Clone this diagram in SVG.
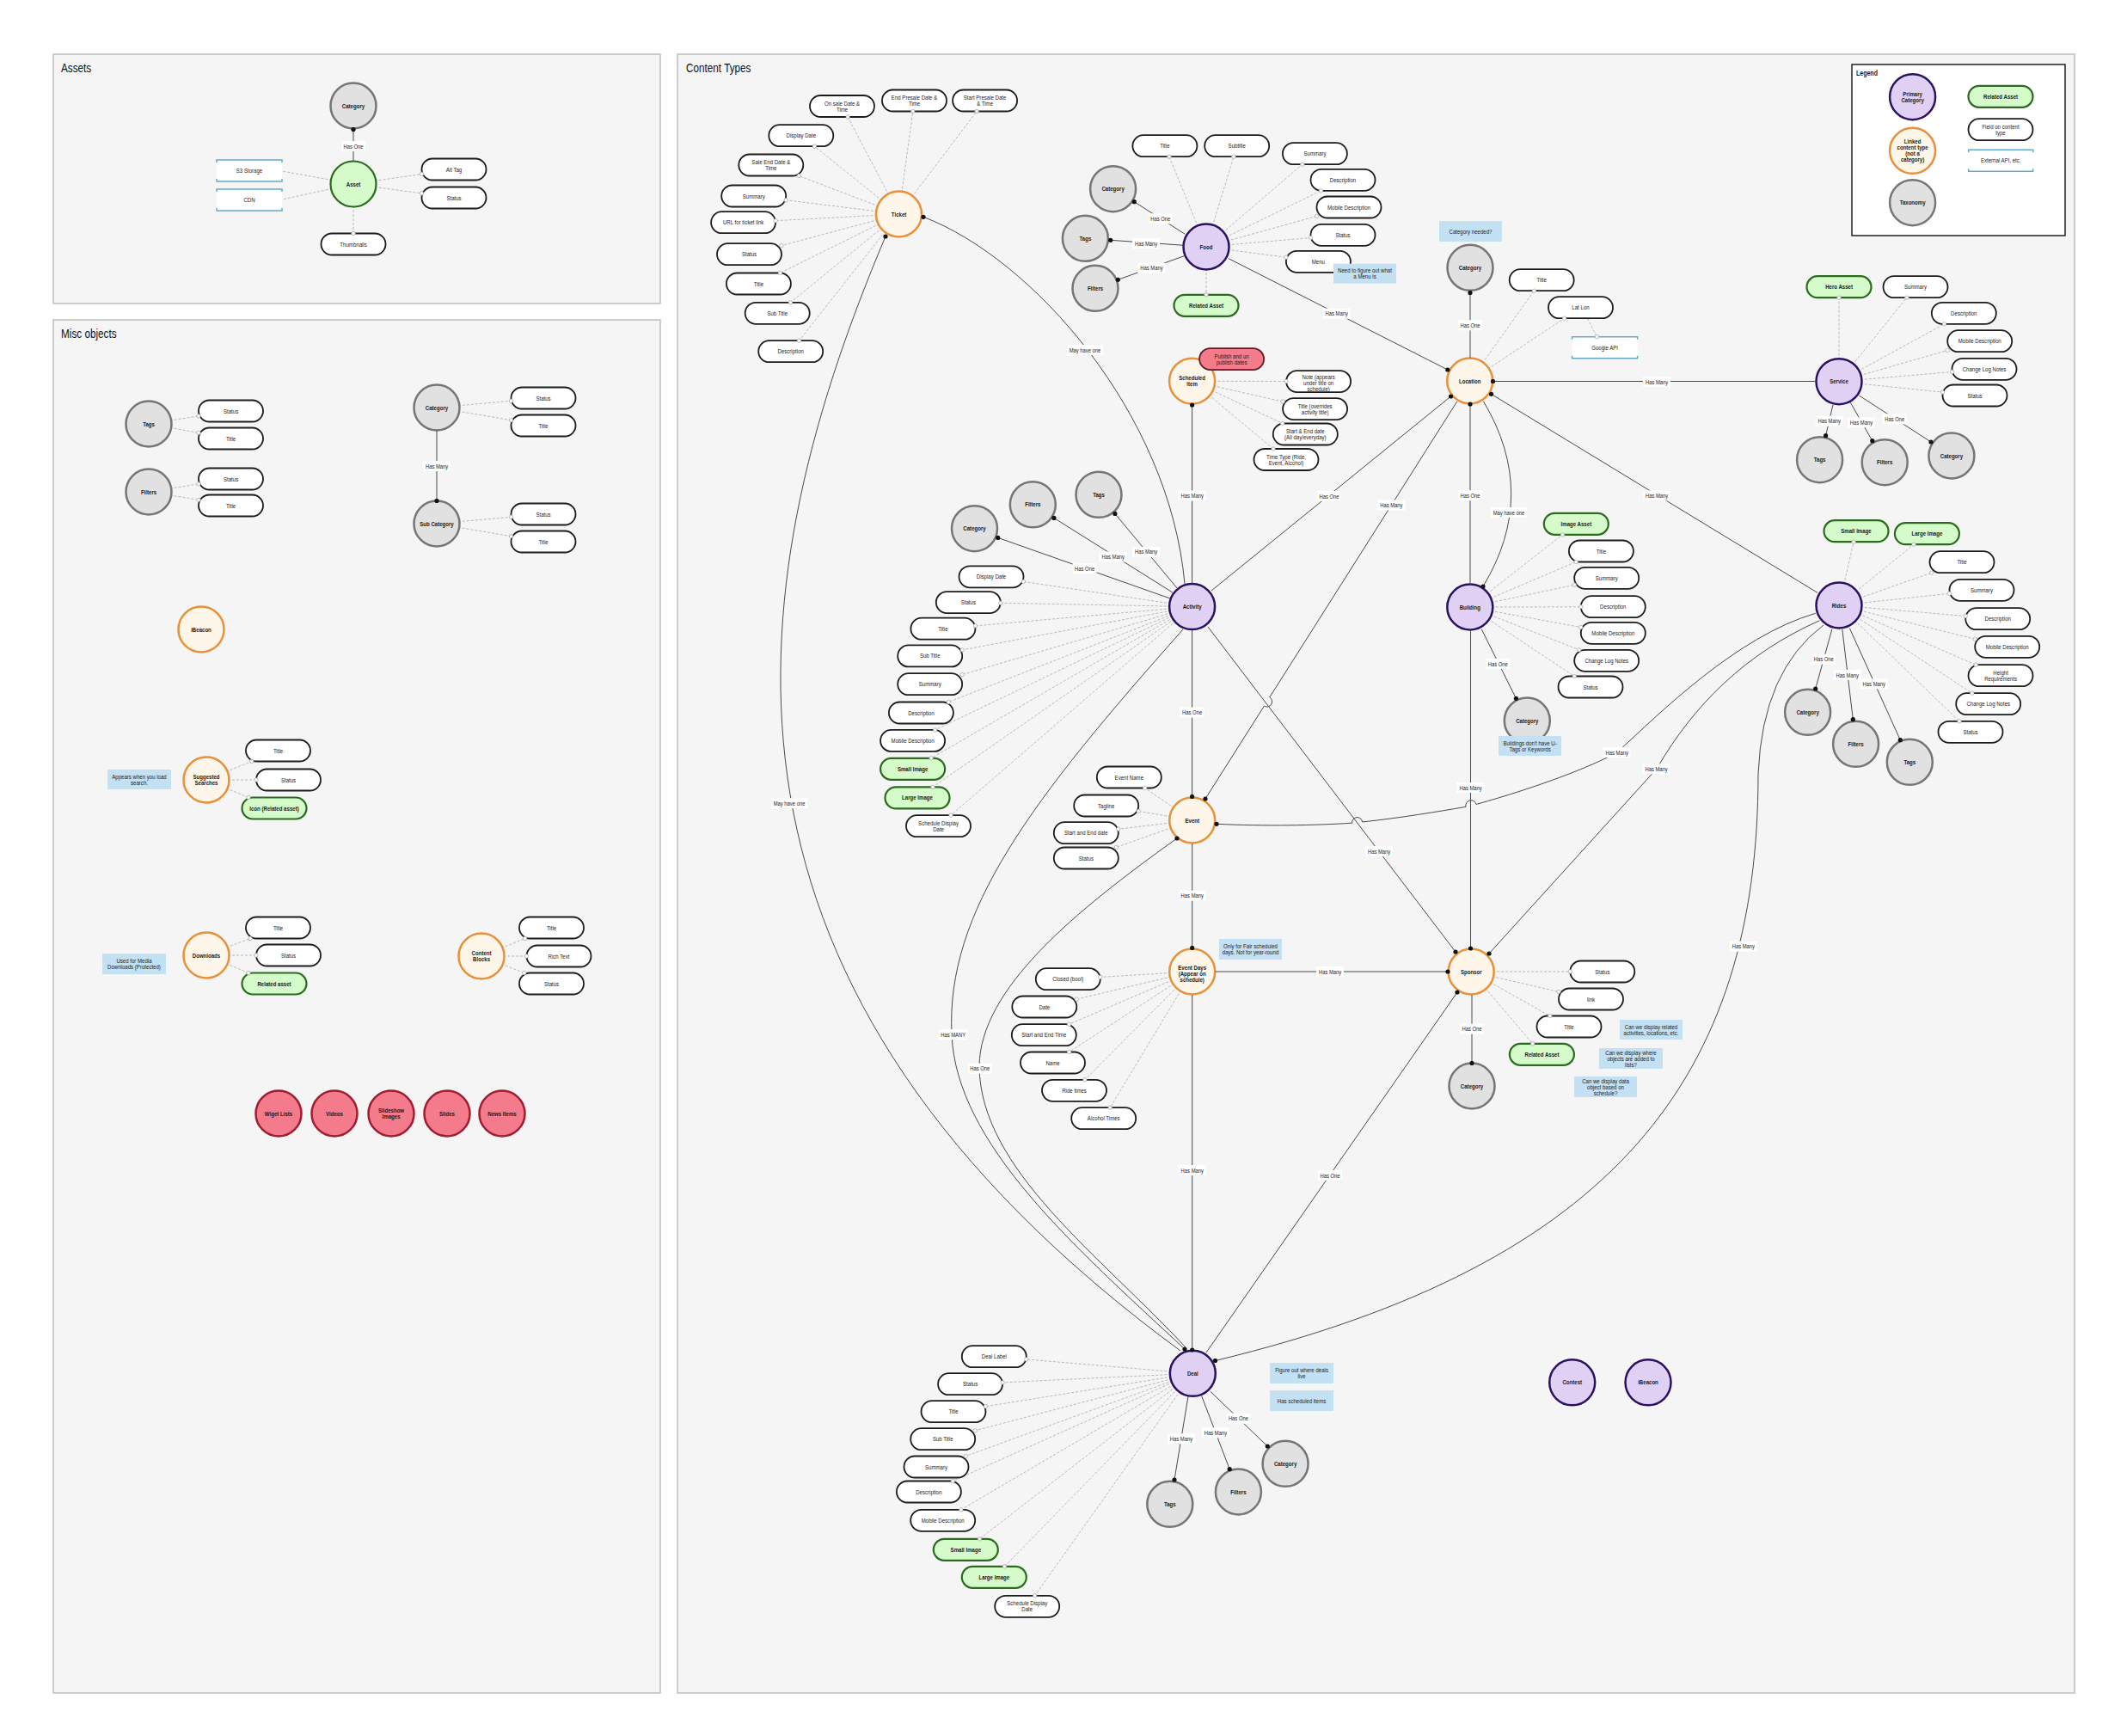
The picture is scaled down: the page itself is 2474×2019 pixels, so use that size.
<svg xmlns="http://www.w3.org/2000/svg" width="2474" height="2019" viewBox="0 0 2474 2019">
<defs>
<style>
text{font-family:"Liberation Sans",Arial,sans-serif;font-size:7.8px;fill:#1a1a1a;text-anchor:middle;transform-box:fill-box;transform-origin:center;transform:scaleX(0.78)}
.b{font-weight:bold}
.ttl{font-size:14px;text-anchor:start;fill:#111;transform-origin:left center;transform:scaleX(0.84)}
.panel{fill:#f5f5f5;stroke:#bdbdbd;stroke-width:1.5}
.prim{fill:#e0d1f4;stroke:#2b1160;stroke-width:2.5}
.lnk{fill:#fff6ea;stroke:#e8913a;stroke-width:2.5}
.tax{fill:#e1e1e1;stroke:#767676;stroke-width:2.5}
.red{fill:#f47b8b;stroke:#a01d32;stroke-width:2.5}
.fld{fill:#fff;stroke:#1c1c1c;stroke-width:1.8}
.ast{fill:#d5fbca;stroke:#2a6b1e;stroke-width:2.2}
.rp{fill:#f47b8b;stroke:#5c1b25;stroke-width:1.8}
.ext{fill:#fff}
.extl{fill:none;stroke:#64abc6;stroke-width:1.5}
.note{fill:#c4e1f3}
.dash{fill:none;stroke:#b8b8b8;stroke-width:1;stroke-dasharray:3 2}
.rel{fill:none;stroke:#4a4a4a;stroke-width:1}
.mk{fill:#fff;stroke:#a8a8a8;stroke-width:0.8}
.lb rect{fill:#fff}
.lb text{font-size:7.5px}
</style>
<marker id="dot" viewBox="0 0 6 6" refX="3" refY="3" markerWidth="6" markerHeight="6" markerUnits="userSpaceOnUse"><circle cx="3" cy="3" r="2.6" fill="#111"/></marker>
</defs>
<rect width="2474" height="2019" fill="#fff"/>
<g id="panels">
<rect class="panel" x="62" y="63" width="706" height="290"/>
<text class="ttl" x="71" y="84">Assets</text>
<rect class="panel" x="62" y="372" width="706" height="1597"/>
<text class="ttl" x="71" y="393">Misc objects</text>
<rect class="panel" x="788" y="63" width="1625" height="1906"/>
<text class="ttl" x="798" y="84">Content Types</text>
</g>
<g id="field-links">
<path class="dash" d="M411,214L490.5,202.4M411,214L490.5,224.9M411,214L411,271.5M411,214L328,199M411,214L328,232"/>
<path class="dash" d="M173,493L231,483.9M173,493L231,503.3M173,572L231,562.9M173,572L231,581.3M508,474L594.5,466.3M508,474L594.5,488.7M508,609L594.5,601.3M508,609L594.5,623.7M240,907L292.8,885.5M240,907L298,907M240,907L289,927.5M240,1111L291,1091.5M240,1111L298,1111M240,1111L289,1131.5M560,1112L610.6,1091.5M560,1112L612.5,1112M560,1112L609.7,1131.5"/>
<path class="dash" d="M1045.5,249L986.1,136M1045.5,249L1061.8,129.5M1045.5,249L1136.1,129.5M1045.5,249L947.4,170.2M1045.5,249L929.4,204.5M1045.5,249L914.2,232.7M1045.5,249L902.1,256.7M1045.5,249L909,285.6M1045.5,249L907.5,317.5M1045.5,249L919.5,351.8M1045.5,249L929.5,396.2"/>
<path class="dash" d="M1403,287L1360,182.2M1403,287L1434.9,182.2M1403,287L1514.8,191.2M1403,287L1536.4,221.8M1403,287L1531.5,251.4M1403,287L1524.5,276.5M1403,287L1495.9,299.3M1403,287L1403,342.8"/>
<path class="dash" d="M1386.6,443.2L1496.1,443.5M1386.6,443.2L1492.1,467.1M1386.6,443.2L1491.7,492.5M1386.6,443.2L1481,522"/>
<path class="dash" d="M1386.6,705.6L1190.5,676.4M1386.6,705.6L1163.8,701.3M1386.6,705.6L1134.4,727.9M1386.6,705.6L1119.2,755.9M1386.6,705.6L1119.2,784.6M1386.6,705.6L1103.3,816.5M1386.6,705.6L1087.7,848.9M1386.6,705.6L1083.1,881.8M1386.6,705.6L1085,915.4M1386.6,705.6L1106,948.2"/>
<path class="dash" d="M1386.7,954L1331.7,916.5M1386.7,954L1324.2,943.4M1386.7,954L1300.8,964.2M1386.7,954L1298.3,985.5"/>
<path class="dash" d="M1386.7,1130L1279.8,1136.4M1386.7,1130L1252.3,1162.1M1386.7,1130L1243.5,1191.2M1386.7,1130L1243.6,1223.5M1386.7,1130L1261.9,1255.8M1386.7,1130L1291.2,1288.2"/>
<path class="dash" d="M1711.2,1130L1826.3,1130M1711.2,1130L1813,1153.4M1711.2,1130L1802.8,1181.5M1711.2,1130L1782.7,1213.8"/>
<path class="dash" d="M1709.7,443L1784.3,338.2M1709.7,443L1819.6,370.2M1846.5,370.2L1857.4,391.7"/>
<path class="dash" d="M2139,443.7L2139,346.2M2139,443.7L2217.9,346.2M2139,443.7L2261.5,376.8M2139,443.7L2265.2,407.5M2139,443.7L2270.5,432.5M2139,443.7L2259.5,456.1"/>
<path class="dash" d="M1709.8,706L1817.4,621.8M1709.8,706L1833.1,653.5M1709.8,706L1831.2,680.2M1709.8,706L1838.8,705.8M1709.8,706L1838.8,729.5M1709.8,706L1836.8,755.8M1709.8,706L1831.2,786.5"/>
<path class="dash" d="M2139,704L2156.1,630.2M2139,704L2226,633.2M2139,704L2246.5,666.2M2139,704L2267.5,690.3M2139,704L2286.2,716.5M2139,704L2297.2,743.2M2139,704L2298.2,773.2M2139,704L2293.8,806.2M2139,704L2279,838.8"/>
<path class="dash" d="M1387.3,1597.3L1193.8,1580.9M1387.3,1597.3L1166.1,1607.9M1387.3,1597.3L1146.5,1635.7M1387.3,1597.3L1134.2,1663.8M1387.3,1597.3L1123.3,1693.5M1387.3,1597.3L1108.3,1722.5M1387.3,1597.3L1117.9,1755.8M1387.3,1597.3L1139.4,1789.8M1387.3,1597.3L1168.5,1821.8M1387.3,1597.3L1203.6,1855.8"/>
</g>

<g id="asset-nodes">
<g id="n-asset-category"><circle class="tax" cx="411" cy="123" r="26.5"/><text class="b" x="411" y="125.6">Category</text></g>
<g id="n-asset"><circle class="ast" cx="411" cy="214" r="26.5"/><text class="b" x="411" y="216.6">Asset</text></g>
<g id="n-s3"><rect class="ext" x="252" y="186" width="76" height="25"/><path class="extl" d="M252,189V186H328V189M252,208V211H328V208"/><text x="290" y="201">S3 Storage</text></g>
<g id="n-cdn"><rect class="ext" x="252" y="220" width="76" height="25"/><path class="extl" d="M252,223V220H328V223M252,242V245H328V242"/><text x="290" y="235">CDN</text></g>
<g id="n-asset-alt"><rect class="fld" x="490.5" y="184.5" width="75" height="25" rx="12.5"/><text x="528" y="199.6">Alt Tag</text></g>
<g id="n-asset-status"><rect class="fld" x="490.5" y="217.5" width="75" height="25" rx="12.5"/><text x="528" y="232.6">Status</text></g>
<g id="n-asset-thumbs"><rect class="fld" x="373.5" y="271.5" width="75" height="25" rx="12.5"/><text x="411" y="286.6">Thumbnails</text></g>
</g>

<g id="misc-nodes">
<g id="n-m-tags"><circle class="tax" cx="173" cy="493" r="26.5"/><text class="b" x="173" y="495.6">Tags</text></g>
<g id="n-m-tags-status"><rect class="fld" x="231" y="465.5" width="75" height="25" rx="12.5"/><text x="268.5" y="480.6">Status</text></g>
<g id="n-m-tags-title"><rect class="fld" x="231" y="497.5" width="75" height="25" rx="12.5"/><text x="268.5" y="512.6">Title</text></g>
<g id="n-m-filters"><circle class="tax" cx="173" cy="572" r="26.5"/><text class="b" x="173" y="574.6">Filters</text></g>
<g id="n-m-filters-status"><rect class="fld" x="231" y="544.5" width="75" height="25" rx="12.5"/><text x="268.5" y="559.6">Status</text></g>
<g id="n-m-filters-title"><rect class="fld" x="231" y="575.5" width="75" height="25" rx="12.5"/><text x="268.5" y="590.6">Title</text></g>
<g id="n-m-cat"><circle class="tax" cx="508" cy="474" r="26.5"/><text class="b" x="508" y="476.6">Category</text></g>
<g id="n-m-cat-status"><rect class="fld" x="594.5" y="450.5" width="75" height="25" rx="12.5"/><text x="632" y="465.6">Status</text></g>
<g id="n-m-cat-title"><rect class="fld" x="594.5" y="482.5" width="75" height="25" rx="12.5"/><text x="632" y="497.6">Title</text></g>
<g id="n-m-sub"><circle class="tax" cx="508" cy="609" r="26.5"/><text class="b" x="508" y="611.6">Sub Category</text></g>
<g id="n-m-sub-status"><rect class="fld" x="594.5" y="585.5" width="75" height="25" rx="12.5"/><text x="632" y="600.6">Status</text></g>
<g id="n-m-sub-title"><rect class="fld" x="594.5" y="617.5" width="75" height="25" rx="12.5"/><text x="632" y="632.6">Title</text></g>
<g id="n-m-ibeacon"><circle class="lnk" cx="234" cy="732" r="26.5"/><text class="b" x="234" y="734.6">iBeacon</text></g>
<g id="n-m-sugg-note"><rect class="note" x="125" y="895" width="74" height="23"/><text x="162" y="905.6">Appears when you load<tspan x="162" dy="7">search.</tspan></text></g>
<g id="n-m-sugg"><circle class="lnk" cx="240" cy="907" r="26.5"/><text class="b" x="240" y="906.1">Suggested<tspan x="240" dy="7">Searches</tspan></text></g>
<g id="n-m-sugg-title"><rect class="fld" x="286" y="860.5" width="75" height="25" rx="12.5"/><text x="323.5" y="875.6">Title</text></g>
<g id="n-m-sugg-status"><rect class="fld" x="298" y="894.5" width="75" height="25" rx="12.5"/><text x="335.5" y="909.6">Status</text></g>
<g id="n-m-sugg-icon"><rect class="ast" x="281.5" y="927.5" width="75" height="25" rx="12.5"/><text class="b" x="319" y="942.6">Icon (Related asset)</text></g>
<g id="n-m-dl-note"><rect class="note" x="119" y="1109" width="74" height="24"/><text x="156" y="1120.1">Used for Media<tspan x="156" dy="7">Downloads (Protected)</tspan></text></g>
<g id="n-m-dl"><circle class="lnk" cx="240" cy="1111" r="26.5"/><text class="b" x="240" y="1113.6">Downloads</text></g>
<g id="n-m-dl-title"><rect class="fld" x="286" y="1066.5" width="75" height="25" rx="12.5"/><text x="323.5" y="1081.6">Title</text></g>
<g id="n-m-dl-status"><rect class="fld" x="298" y="1098.5" width="75" height="25" rx="12.5"/><text x="335.5" y="1113.6">Status</text></g>
<g id="n-m-dl-asset"><rect class="ast" x="281.5" y="1131.5" width="75" height="25" rx="12.5"/><text class="b" x="319" y="1146.6">Related asset</text></g>
<g id="n-m-cb"><circle class="lnk" cx="560" cy="1112" r="26.5"/><text class="b" x="560" y="1111.1">Content<tspan x="560" dy="7">Blocks</tspan></text></g>
<g id="n-m-cb-title"><rect class="fld" x="604" y="1066.5" width="75" height="25" rx="12.5"/><text x="641.5" y="1081.6">Title</text></g>
<g id="n-m-cb-rich"><rect class="fld" x="612.5" y="1099.5" width="75" height="25" rx="12.5"/><text x="650" y="1114.6">Rich Text</text></g>
<g id="n-m-cb-status"><rect class="fld" x="604" y="1131.5" width="75" height="25" rx="12.5"/><text x="641.5" y="1146.6">Status</text></g>
<g id="n-m-wiget"><circle class="red" cx="324" cy="1295" r="26.5"/><text class="b" x="324" y="1297.6">Wiget Lists</text></g>
<g id="n-m-videos"><circle class="red" cx="389" cy="1295" r="26.5"/><text class="b" x="389" y="1297.6">Videos</text></g>
<g id="n-m-slideshow"><circle class="red" cx="455" cy="1295" r="26.5"/><text class="b" x="455" y="1294.1">Slideshow<tspan x="455" dy="7">Images</tspan></text></g>
<g id="n-m-slides"><circle class="red" cx="520" cy="1295" r="26.5"/><text class="b" x="520" y="1297.6">Slides</text></g>
<g id="n-m-news"><circle class="red" cx="584" cy="1295" r="26.5"/><text class="b" x="584" y="1297.6">News Items</text></g>
</g>

<g id="legend">
<rect x="2154" y="75" width="248" height="199" fill="#fff" stroke="#222" stroke-width="1.5"/>
<text class="b" x="2159" y="88" style="text-anchor:start;font-size:9px;transform-origin:left center">Legend</text>
<g id="lg-primary"><circle class="prim" cx="2224.6" cy="112.7" r="26.5"/><text class="b" x="2224.6" y="111.8">Primary<tspan x="2224.6" dy="7">Category</tspan></text></g>
<g id="lg-linked"><circle class="lnk" cx="2224.6" cy="175.3" r="26.5"/><text class="b" x="2224.6" y="167.4">Linked<tspan x="2224.6" dy="7">content type</tspan><tspan x="2224.6" dy="7">(not a</tspan><tspan x="2224.6" dy="7">category)</tspan></text></g>
<g id="lg-tax"><circle class="tax" cx="2224.6" cy="235.7" r="26.5"/><text class="b" x="2224.6" y="238.3">Taxonomy</text></g>
<g id="lg-asset"><rect class="ast" x="2289.5" y="99.8" width="75" height="25" rx="12.5"/><text class="b" x="2327" y="114.9">Related Asset</text></g>
<g id="lg-field"><rect class="fld" x="2289.5" y="138.2" width="75" height="25" rx="12.5"/><text x="2327" y="149.8">Field on content<tspan x="2327" dy="7">type</tspan></text></g>
<g id="lg-ext"><rect class="ext" x="2289.7" y="174.3" width="75" height="25"/><path class="extl" d="M2289.7,177.3V174.3H2364.7V177.3M2289.7,196.3V199.3H2364.7V196.3"/><text x="2327.2" y="189.4">External API, etc.</text></g>
</g>

<g id="ticket-nodes">
<g id="n-ticket"><circle class="lnk" cx="1045.5" cy="249" r="26.5"/><text class="b" x="1045.5" y="251.6">Ticket</text></g>
<g id="n-t-onsale"><rect class="fld" x="942" y="111" width="75" height="25" rx="12.5"/><text x="979.5" y="122.6">On sale Date &amp;<tspan x="979.5" dy="7">Time</tspan></text></g>
<g id="n-t-endpre"><rect class="fld" x="1026" y="104.5" width="75" height="25" rx="12.5"/><text x="1063.5" y="116.1">End Presale Date &amp;<tspan x="1063.5" dy="7">Time</tspan></text></g>
<g id="n-t-startpre"><rect class="fld" x="1108.1" y="104.5" width="75" height="25" rx="12.5"/><text x="1145.6" y="116.1">Start Presale Date<tspan x="1145.6" dy="7">&amp; Time</tspan></text></g>
<g id="n-t-display"><rect class="fld" x="894.3" y="145.2" width="75" height="25" rx="12.5"/><text x="931.8" y="160.3">Display Date</text></g>
<g id="n-t-saleend"><rect class="fld" x="859.3" y="179.5" width="75" height="25" rx="12.5"/><text x="896.8" y="191.1">Sale End Date &amp;<tspan x="896.8" dy="7">Time</tspan></text></g>
<g id="n-t-summary"><rect class="fld" x="839.2" y="215.5" width="75" height="25" rx="12.5"/><text x="876.7" y="230.6">Summary</text></g>
<g id="n-t-url"><rect class="fld" x="827.1" y="246.2" width="75" height="25" rx="12.5"/><text x="864.6" y="261.3">URL for ticket link</text></g>
<g id="n-t-status"><rect class="fld" x="834" y="283.2" width="75" height="25" rx="12.5"/><text x="871.5" y="298.3">Status</text></g>
<g id="n-t-title"><rect class="fld" x="844.9" y="317.5" width="75" height="25" rx="12.5"/><text x="882.4" y="332.6">Title</text></g>
<g id="n-t-subtitle"><rect class="fld" x="866.7" y="351.8" width="75" height="25" rx="12.5"/><text x="904.2" y="366.9">Sub Title</text></g>
<g id="n-t-desc"><rect class="fld" x="882.2" y="396.2" width="75" height="25" rx="12.5"/><text x="919.7" y="411.3">Description</text></g>
</g>

<g id="food-nodes">
<g id="n-food"><circle class="prim" cx="1403" cy="287" r="26.5"/><text class="b" x="1403" y="289.6">Food</text></g>
<g id="n-f-title"><rect class="fld" x="1317.4" y="157.2" width="75" height="25" rx="12.5"/><text x="1354.9" y="172.3">Title</text></g>
<g id="n-f-subtitle"><rect class="fld" x="1401.2" y="157.2" width="75" height="25" rx="12.5"/><text x="1438.7" y="172.3">Subtitle</text></g>
<g id="n-f-summary"><rect class="fld" x="1491.9" y="166.2" width="75" height="25" rx="12.5"/><text x="1529.4" y="181.3">Summary</text></g>
<g id="n-f-desc"><rect class="fld" x="1524.5" y="196.8" width="75" height="25" rx="12.5"/><text x="1562" y="211.9">Description</text></g>
<g id="n-f-mdesc"><rect class="fld" x="1531.5" y="228.5" width="75" height="25" rx="12.5"/><text x="1569" y="243.6">Mobile Description</text></g>
<g id="n-f-status"><rect class="fld" x="1524.5" y="260.8" width="75" height="25" rx="12.5"/><text x="1562" y="275.9">Status</text></g>
<g id="n-f-menu"><rect class="fld" x="1495.9" y="291.8" width="75" height="25" rx="12.5"/><text x="1533.4" y="306.9">Menu</text></g>
<g id="n-f-menu-note"><rect class="note" x="1551" y="306.7" width="73" height="23"/><text x="1587.5" y="317.3">Need to figure out what<tspan x="1587.5" dy="7">a Menu is</tspan></text></g>
<g id="n-f-asset"><rect class="ast" x="1365.5" y="342.8" width="75" height="25" rx="12.5"/><text class="b" x="1403" y="357.9">Related Asset</text></g>
<g id="n-f-cat"><circle class="tax" cx="1294.6" cy="219.7" r="26.5"/><text class="b" x="1294.6" y="222.3">Category</text></g>
<g id="n-f-tags"><circle class="tax" cx="1262.4" cy="277.3" r="26.5"/><text class="b" x="1262.4" y="279.9">Tags</text></g>
<g id="n-f-filters"><circle class="tax" cx="1274" cy="335.3" r="26.5"/><text class="b" x="1274" y="337.9">Filters</text></g>
</g>

<g id="scheduled-nodes">
<g id="n-sched"><circle class="lnk" cx="1386.6" cy="443.2" r="26.5"/><text class="b" x="1386.6" y="442.3">Scheduled<tspan x="1386.6" dy="7">item</tspan></text></g>
<g id="n-s-publish"><rect class="rp" x="1395.1" y="405.1" width="75" height="25" rx="12.5"/><text x="1432.6" y="416.7">Publish and un<tspan x="1432.6" dy="7">publish dates</tspan></text></g>
<g id="n-s-note"><rect class="fld" x="1496.1" y="431.1" width="75" height="25" rx="12.5"/><text x="1533.6" y="441.2">Note (appears<tspan x="1533.6" dy="7">under title on</tspan><tspan x="1533.6" dy="7">schedule)</tspan></text></g>
<g id="n-s-title"><rect class="fld" x="1492.1" y="463.1" width="75" height="25" rx="12.5"/><text x="1529.6" y="474.7">Title (overrides<tspan x="1529.6" dy="7">activity title)</tspan></text></g>
<g id="n-s-dates"><rect class="fld" x="1480.8" y="492.5" width="75" height="25" rx="12.5"/><text x="1518.3" y="504.1">Start &amp; End date<tspan x="1518.3" dy="7">(All day/everyday)</tspan></text></g>
<g id="n-s-timetype"><rect class="fld" x="1458.5" y="522" width="75" height="25" rx="12.5"/><text x="1496" y="533.6">Time Type (Ride,<tspan x="1496" dy="7">Event, Alcohol)</tspan></text></g>
</g>

<g id="activity-nodes">
<g id="n-activity"><circle class="prim" cx="1386.6" cy="705.6" r="26.5"/><text class="b" x="1386.6" y="708.2">Activity</text></g>
<g id="n-a-tags"><circle class="tax" cx="1278" cy="575.3" r="26.5"/><text class="b" x="1278" y="577.9">Tags</text></g>
<g id="n-a-filters"><circle class="tax" cx="1201.3" cy="586.8" r="26.5"/><text class="b" x="1201.3" y="589.4">Filters</text></g>
<g id="n-a-cat"><circle class="tax" cx="1133.5" cy="614.7" r="26.5"/><text class="b" x="1133.5" y="617.3">Category</text></g>
<g id="n-a-display"><rect class="fld" x="1115.5" y="658.3" width="75" height="25" rx="12.5"/><text x="1153" y="673.4">Display Date</text></g>
<g id="n-a-status"><rect class="fld" x="1088.8" y="688.1" width="75" height="25" rx="12.5"/><text x="1126.3" y="703.2">Status</text></g>
<g id="n-a-title"><rect class="fld" x="1059.4" y="718.7" width="75" height="25" rx="12.5"/><text x="1096.9" y="733.8">Title</text></g>
<g id="n-a-subtitle"><rect class="fld" x="1044.2" y="750.4" width="75" height="25" rx="12.5"/><text x="1081.7" y="765.5">Sub Title</text></g>
<g id="n-a-summary"><rect class="fld" x="1044.2" y="783.2" width="75" height="25" rx="12.5"/><text x="1081.7" y="798.3">Summary</text></g>
<g id="n-a-desc"><rect class="fld" x="1033.9" y="816.5" width="75" height="25" rx="12.5"/><text x="1071.4" y="831.6">Description</text></g>
<g id="n-a-mdesc"><rect class="fld" x="1024.1" y="848.9" width="75" height="25" rx="12.5"/><text x="1061.6" y="864">Mobile Description</text></g>
<g id="n-a-small"><rect class="ast" x="1024.1" y="881.8" width="75" height="25" rx="12.5"/><text class="b" x="1061.6" y="896.9">Small Image</text></g>
<g id="n-a-large"><rect class="ast" x="1029.5" y="915.4" width="75" height="25" rx="12.5"/><text class="b" x="1067" y="930.5">Large Image</text></g>
<g id="n-a-sched"><rect class="fld" x="1054" y="948.2" width="75" height="25" rx="12.5"/><text x="1091.5" y="959.8">Schedule Display<tspan x="1091.5" dy="7">Date</tspan></text></g>
</g>

<g id="event-nodes">
<g id="n-event"><circle class="lnk" cx="1386.7" cy="954" r="26.5"/><text class="b" x="1386.7" y="956.6">Event</text></g>
<g id="n-e-name"><rect class="fld" x="1275.8" y="891.5" width="75" height="25" rx="12.5"/><text x="1313.3" y="906.6">Event Name</text></g>
<g id="n-e-tagline"><rect class="fld" x="1249.2" y="924.5" width="75" height="25" rx="12.5"/><text x="1286.7" y="939.6">Tagline</text></g>
<g id="n-e-dates"><rect class="fld" x="1225.8" y="956.2" width="75" height="25" rx="12.5"/><text x="1263.3" y="971.3">Start and End date</text></g>
<g id="n-e-status"><rect class="fld" x="1225.8" y="985.5" width="75" height="25" rx="12.5"/><text x="1263.3" y="1000.6">Status</text></g>
<g id="n-eventdays"><circle class="lnk" cx="1386.7" cy="1130" r="26.5"/><text class="b" x="1386.7" y="1127.6">Event Days<tspan x="1386.7" dy="7">(Appear on</tspan><tspan x="1386.7" dy="7">schedule)</tspan></text></g>
<g id="n-ed-note"><rect class="note" x="1418" y="1092" width="73" height="24"/><text x="1454.5" y="1103.1">Only for Fair scheduled<tspan x="1454.5" dy="7">days. Not for year-round</tspan></text></g>
<g id="n-ed-closed"><rect class="fld" x="1204.8" y="1126.2" width="75" height="25" rx="12.5"/><text x="1242.3" y="1141.3">Closed (bool)</text></g>
<g id="n-ed-date"><rect class="fld" x="1177.3" y="1158.5" width="75" height="25" rx="12.5"/><text x="1214.8" y="1173.6">Date</text></g>
<g id="n-ed-time"><rect class="fld" x="1176.8" y="1191.2" width="75" height="25" rx="12.5"/><text x="1214.3" y="1206.3">Start and End Time</text></g>
<g id="n-ed-name"><rect class="fld" x="1187" y="1223.5" width="75" height="25" rx="12.5"/><text x="1224.5" y="1238.6">Name</text></g>
<g id="n-ed-ride"><rect class="fld" x="1212" y="1255.8" width="75" height="25" rx="12.5"/><text x="1249.5" y="1270.9">Ride times</text></g>
<g id="n-ed-alcohol"><rect class="fld" x="1246.2" y="1288.2" width="75" height="25" rx="12.5"/><text x="1283.7" y="1303.3">Alcohol Times</text></g>
</g>

<g id="sponsor-nodes">
<g id="n-sponsor"><circle class="lnk" cx="1711.2" cy="1130" r="26.5"/><text class="b" x="1711.2" y="1132.6">Sponsor</text></g>
<g id="n-sp-status"><rect class="fld" x="1826.3" y="1117.5" width="75" height="25" rx="12.5"/><text x="1863.8" y="1132.6">Status</text></g>
<g id="n-sp-link"><rect class="fld" x="1813" y="1149.5" width="75" height="25" rx="12.5"/><text x="1850.5" y="1164.6">link</text></g>
<g id="n-sp-title"><rect class="fld" x="1787.5" y="1181.5" width="75" height="25" rx="12.5"/><text x="1825" y="1196.6">Title</text></g>
<g id="n-sp-asset"><rect class="ast" x="1755.9" y="1213.8" width="75" height="25" rx="12.5"/><text class="b" x="1793.4" y="1228.9">Related Asset</text></g>
<g id="n-sp-cat"><circle class="tax" cx="1712" cy="1263" r="26.5"/><text class="b" x="1712" y="1265.6">Category</text></g>
<g id="n-sp-note1"><rect class="note" x="1884" y="1186" width="73" height="23"/><text x="1920.5" y="1196.6">Can we display related<tspan x="1920.5" dy="7">activities, locations, etc.</tspan></text></g>
<g id="n-sp-note2"><rect class="note" x="1860" y="1219" width="74" height="24"/><text x="1897" y="1226.6">Can we display where<tspan x="1897" dy="7">objects are added to</tspan><tspan x="1897" dy="7">lists?</tspan></text></g>
<g id="n-sp-note3"><rect class="note" x="1831" y="1252" width="73" height="24"/><text x="1867.5" y="1259.6">Can we display data<tspan x="1867.5" dy="7">object based on</tspan><tspan x="1867.5" dy="7">schedule?</tspan></text></g>
</g>

<g id="location-nodes">
<g id="n-location"><circle class="lnk" cx="1709.7" cy="443" r="26.5"/><text class="b" x="1709.7" y="445.6">Location</text></g>
<g id="n-l-cat"><circle class="tax" cx="1710" cy="311.3" r="26.5"/><text class="b" x="1710" y="313.9">Category</text></g>
<g id="n-l-note"><rect class="note" x="1674" y="257" width="73" height="24"/><text x="1710.5" y="271.6">Category needed?</text></g>
<g id="n-l-title"><rect class="fld" x="1755.7" y="313.2" width="75" height="25" rx="12.5"/><text x="1793.2" y="328.3">Title</text></g>
<g id="n-l-latlon"><rect class="fld" x="1801" y="345.2" width="75" height="25" rx="12.5"/><text x="1838.5" y="360.3">Lat Lon</text></g>
<g id="n-l-google"><rect class="ext" x="1828.6" y="391.7" width="76" height="25"/><path class="extl" d="M1828.6,394.7V391.7H1904.6V394.7M1828.6,413.7V416.7H1904.6V413.7"/><text x="1866.6" y="406.8">Google API</text></g>
</g>

<g id="service-nodes">
<g id="n-service"><circle class="prim" cx="2139" cy="443.7" r="26.5"/><text class="b" x="2139" y="446.3">Service</text></g>
<g id="n-sv-hero"><rect class="ast" x="2101.5" y="321.2" width="75" height="25" rx="12.5"/><text class="b" x="2139" y="336.3">Hero Asset</text></g>
<g id="n-sv-summary"><rect class="fld" x="2190.5" y="321.2" width="75" height="25" rx="12.5"/><text x="2228" y="336.3">Summary</text></g>
<g id="n-sv-desc"><rect class="fld" x="2246.8" y="351.8" width="75" height="25" rx="12.5"/><text x="2284.3" y="366.9">Description</text></g>
<g id="n-sv-mdesc"><rect class="fld" x="2265.2" y="384.2" width="75" height="25" rx="12.5"/><text x="2302.7" y="399.3">Mobile Description</text></g>
<g id="n-sv-log"><rect class="fld" x="2270.5" y="416.8" width="75" height="25" rx="12.5"/><text x="2308" y="431.9">Change Log Notes</text></g>
<g id="n-sv-status"><rect class="fld" x="2259.5" y="447.5" width="75" height="25" rx="12.5"/><text x="2297" y="462.6">Status</text></g>
<g id="n-sv-tags"><circle class="tax" cx="2116.6" cy="534.7" r="26.5"/><text class="b" x="2116.6" y="537.3">Tags</text></g>
<g id="n-sv-filters"><circle class="tax" cx="2192.2" cy="537.7" r="26.5"/><text class="b" x="2192.2" y="540.3">Filters</text></g>
<g id="n-sv-cat"><circle class="tax" cx="2269.9" cy="530" r="26.5"/><text class="b" x="2269.9" y="532.6">Category</text></g>
</g>

<g id="building-nodes">
<g id="n-building"><circle class="prim" cx="1709.8" cy="706" r="26.5"/><text class="b" x="1709.8" y="708.6">Building</text></g>
<g id="n-b-image"><rect class="ast" x="1795.8" y="596.8" width="75" height="25" rx="12.5"/><text class="b" x="1833.3" y="611.9">Image Asset</text></g>
<g id="n-b-title"><rect class="fld" x="1824.9" y="628.5" width="75" height="25" rx="12.5"/><text x="1862.4" y="643.6">Title</text></g>
<g id="n-b-summary"><rect class="fld" x="1831.2" y="659.8" width="75" height="25" rx="12.5"/><text x="1868.7" y="674.9">Summary</text></g>
<g id="n-b-desc"><rect class="fld" x="1838.8" y="693.2" width="75" height="25" rx="12.5"/><text x="1876.3" y="708.3">Description</text></g>
<g id="n-b-mdesc"><rect class="fld" x="1838.8" y="723.8" width="75" height="25" rx="12.5"/><text x="1876.3" y="738.9">Mobile Description</text></g>
<g id="n-b-log"><rect class="fld" x="1831.2" y="755.8" width="75" height="25" rx="12.5"/><text x="1868.7" y="770.9">Change Log Notes</text></g>
<g id="n-b-status"><rect class="fld" x="1812.5" y="786.5" width="75" height="25" rx="12.5"/><text x="1850" y="801.6">Status</text></g>
<g id="n-b-cat"><circle class="tax" cx="1776.3" cy="838" r="26.5"/><text class="b" x="1776.3" y="840.6">Category</text></g>
<g id="n-b-note"><rect class="note" x="1743" y="856" width="73" height="23"/><text x="1779.5" y="866.6">Buildings don't have U-<tspan x="1779.5" dy="7">Tags or Keywords</tspan></text></g>
</g>

<g id="rides-nodes">
<g id="n-rides"><circle class="prim" cx="2139" cy="704" r="26.5"/><text class="b" x="2139" y="706.6">Rides</text></g>
<g id="n-r-small"><rect class="ast" x="2121.5" y="605.2" width="75" height="25" rx="12.5"/><text class="b" x="2159" y="620.3">Small Image</text></g>
<g id="n-r-large"><rect class="ast" x="2203.9" y="608.2" width="75" height="25" rx="12.5"/><text class="b" x="2241.4" y="623.3">Large Image</text></g>
<g id="n-r-title"><rect class="fld" x="2244.5" y="641.2" width="75" height="25" rx="12.5"/><text x="2282" y="656.3">Title</text></g>
<g id="n-r-summary"><rect class="fld" x="2267.5" y="673.8" width="75" height="25" rx="12.5"/><text x="2305" y="688.9">Summary</text></g>
<g id="n-r-desc"><rect class="fld" x="2286.2" y="707.2" width="75" height="25" rx="12.5"/><text x="2323.7" y="722.3">Description</text></g>
<g id="n-r-mdesc"><rect class="fld" x="2297.2" y="739.8" width="75" height="25" rx="12.5"/><text x="2334.7" y="754.9">Mobile Description</text></g>
<g id="n-r-height"><rect class="fld" x="2289.5" y="773.2" width="75" height="25" rx="12.5"/><text x="2327" y="784.8">Height<tspan x="2327" dy="7">Requirements</tspan></text></g>
<g id="n-r-log"><rect class="fld" x="2275.2" y="806.2" width="75" height="25" rx="12.5"/><text x="2312.7" y="821.3">Change Log Notes</text></g>
<g id="n-r-status"><rect class="fld" x="2254.5" y="838.8" width="75" height="25" rx="12.5"/><text x="2292" y="853.9">Status</text></g>
<g id="n-r-cat"><circle class="tax" cx="2102.6" cy="828.3" r="26.5"/><text class="b" x="2102.6" y="830.9">Category</text></g>
<g id="n-r-filters"><circle class="tax" cx="2158.6" cy="865.3" r="26.5"/><text class="b" x="2158.6" y="867.9">Filters</text></g>
<g id="n-r-tags"><circle class="tax" cx="2221.3" cy="886.3" r="26.5"/><text class="b" x="2221.3" y="888.9">Tags</text></g>
</g>

<g id="deal-nodes">
<g id="n-deal"><circle class="prim" cx="1387.3" cy="1597.3" r="26.5"/><text class="b" x="1387.3" y="1599.9">Deal</text></g>
<g id="n-d-label"><rect class="fld" x="1118.8" y="1565.2" width="75" height="25" rx="12.5"/><text x="1156.3" y="1580.3">Deal Label</text></g>
<g id="n-d-status"><rect class="fld" x="1091.1" y="1597.2" width="75" height="25" rx="12.5"/><text x="1128.6" y="1612.3">Status</text></g>
<g id="n-d-title"><rect class="fld" x="1071.5" y="1629.2" width="75" height="25" rx="12.5"/><text x="1109" y="1644.3">Title</text></g>
<g id="n-d-subtitle"><rect class="fld" x="1059.2" y="1661.2" width="75" height="25" rx="12.5"/><text x="1096.7" y="1676.3">Sub Title</text></g>
<g id="n-d-summary"><rect class="fld" x="1051.5" y="1693.5" width="75" height="25" rx="12.5"/><text x="1089" y="1708.6">Summary</text></g>
<g id="n-d-desc"><rect class="fld" x="1042.9" y="1722.5" width="75" height="25" rx="12.5"/><text x="1080.4" y="1737.6">Description</text></g>
<g id="n-d-mdesc"><rect class="fld" x="1059.2" y="1755.8" width="75" height="25" rx="12.5"/><text x="1096.7" y="1770.9">Mobile Description</text></g>
<g id="n-d-small"><rect class="ast" x="1085.8" y="1789.8" width="75" height="25" rx="12.5"/><text class="b" x="1123.3" y="1804.9">Small Image</text></g>
<g id="n-d-large"><rect class="ast" x="1118.8" y="1821.8" width="75" height="25" rx="12.5"/><text class="b" x="1156.3" y="1836.9">Large Image</text></g>
<g id="n-d-sched"><rect class="fld" x="1157.2" y="1855.8" width="75" height="25" rx="12.5"/><text x="1194.7" y="1867.4">Schedule Display<tspan x="1194.7" dy="7">Date</tspan></text></g>
<g id="n-d-tags"><circle class="tax" cx="1360.8" cy="1749.3" r="26.5"/><text class="b" x="1360.8" y="1751.9">Tags</text></g>
<g id="n-d-filters"><circle class="tax" cx="1440.4" cy="1735" r="26.5"/><text class="b" x="1440.4" y="1737.6">Filters</text></g>
<g id="n-d-cat"><circle class="tax" cx="1495.1" cy="1702.3" r="26.5"/><text class="b" x="1495.1" y="1704.9">Category</text></g>
<g id="n-d-note1"><rect class="note" x="1477" y="1585" width="74" height="24"/><text x="1514" y="1596.1">Figure out where deals<tspan x="1514" dy="7">live</tspan></text></g>
<g id="n-d-note2"><rect class="note" x="1477" y="1617" width="74" height="24"/><text x="1514" y="1631.6">Has scheduled items</text></g>
<g id="n-contest"><circle class="prim" cx="1828.7" cy="1607.8" r="26.5"/><text class="b" x="1828.7" y="1610.4">Contest</text></g>
<g id="n-ibeacon"><circle class="prim" cx="1917" cy="1607.8" r="26.5"/><text class="b" x="1917" y="1610.4">iBeacon</text></g>
</g>

<g id="connectors">
<g class="rel" marker-end="url(#dot)">
<path d="M411,187.5V150.5"/>
<path d="M508,500.5V582.5"/>
<path d="M1378.4,272.3L1319.3,234.7"/>
<path d="M1376.7,285.3L1291.7,279.3"/>
<path d="M1378.4,297.3L1300.3,325.3"/>
<path d="M1429,300.7L1683.8,430"/>
<path d="M1378,679C1360,480 1200,300 1074,252.3"/>
<path d="M1373,1571C800,1150 850,700 1030,275"/>
<path d="M1386.6,678.5V471"/>
<path d="M1361,696L1160.7,625.4"/>
<path d="M1363.8,689L1225.9,602.4"/>
<path d="M1369.6,684.6L1296.9,597.5"/>
<path d="M1409,687L1687.5,461"/>
<path d="M1694.7,467L1476.8,810.9A6,6 0 0 1 1470.4,821.1L1402,929"/>
<path d="M1386.6,733V926.5"/>
<path d="M1405,729L1693,1107"/>
<path d="M1376,732C1200,930 1100,1060 1107,1203C1112,1330 1250,1450 1378,1569"/>
<path d="M1380,1568C1280,1460 1140,1360 1139,1240C1140,1150 1250,1060 1369,975"/>
<path d="M1386.7,981V1102.5"/>
<path d="M1386.7,1157V1570"/>
<path d="M1413.5,1130H1684"/>
<path d="M1403,1573L1695,1154"/>
<path d="M1710.5,732.5V1103"/>
<path d="M1710,679.5V470"/>
<path d="M1725.6,467Q1790,575 1725,682"/>
<path d="M1710,416.5V340.5"/>
<path d="M2112.5,443.5H1736.5"/>
<path d="M2114,689.3L1734.5,458.3"/>
<path d="M2132,470.7L2123.6,506.7"/>
<path d="M2152.4,468.3L2177.8,512.7"/>
<path d="M2162.4,460L2246,514"/>
<path d="M1723.2,731.7L1763.4,812.3"/>
<path d="M2130.9,731.7L2111.7,801"/>
<path d="M2142.8,731.7L2155.3,836.7"/>
<path d="M2151.4,730.7L2210.3,860.7"/>
<path d="M2111.7,713.3C2020,740 1930,830 1881,875C1850,892 1790,915 1717,935.5A6,6 0 0 0 1705,938.3C1672,944 1630,951 1584.6,956A6,6 0 0 0 1572.6,957.2C1530,960 1470,961 1415,958.3"/>
<path d="M2116.5,721.7C2030,760 1970,820 1927,894L1732,1109"/>
<path d="M2121,727Q2050,780 2045,900C2045,1250 1880,1470 1413.5,1582.5"/>
<path d="M1712,1157V1236.5"/>
<path d="M1382,1624L1366,1721"/>
<path d="M1397.6,1623.3L1430.2,1708.7"/>
<path d="M1407.8,1618.3L1474.3,1682"/>
</g>
<g class="lb">
<rect x="397" y="164" width="28" height="12"/><text x="411" y="172.6">Has One</text>
<rect x="492" y="536" width="32" height="12"/><text x="508" y="544.6">Has Many</text>
<rect x="1335.7" y="248.3" width="28" height="12"/><text x="1349.7" y="256.9">Has One</text>
<rect x="1317" y="277" width="32" height="12"/><text x="1333" y="285.6">Has Many</text>
<rect x="1323.4" y="305.7" width="32" height="12"/><text x="1339.4" y="314.3">Has Many</text>
<rect x="1538.6" y="358.7" width="32" height="12"/><text x="1554.6" y="367.3">Has Many</text>
<rect x="1241" y="401" width="42" height="12"/><text x="1262" y="409.6">May have one</text>
<rect x="897" y="928" width="42" height="12"/><text x="918" y="936.6">May have one</text>
<rect x="1370.6" y="570.5" width="32" height="12"/><text x="1386.6" y="579.1">Has Many</text>
<rect x="1247.6" y="655.3" width="28" height="12"/><text x="1261.6" y="663.9">Has One</text>
<rect x="1278.6" y="641.5" width="32" height="12"/><text x="1294.6" y="650.1">Has Many</text>
<rect x="1317" y="635.8" width="32" height="12"/><text x="1333" y="644.4">Has Many</text>
<rect x="1532" y="571" width="28" height="12"/><text x="1546" y="579.6">Has One</text>
<rect x="1602.3" y="581.5" width="32" height="12"/><text x="1618.3" y="590.1">Has Many</text>
<rect x="1372.6" y="822.6" width="28" height="12"/><text x="1386.6" y="831.2">Has One</text>
<rect x="1588" y="984" width="32" height="12"/><text x="1604" y="992.6">Has Many</text>
<rect x="1091.6" y="1197.2" width="34" height="12"/><text x="1108.6" y="1205.8">Has MANY</text>
<rect x="1125.8" y="1236.7" width="28" height="12"/><text x="1139.8" y="1245.3">Has One</text>
<rect x="1370.7" y="1035.7" width="32" height="12"/><text x="1386.7" y="1044.3">Has Many</text>
<rect x="1370.7" y="1355" width="32" height="12"/><text x="1386.7" y="1363.6">Has Many</text>
<rect x="1531" y="1124" width="32" height="12"/><text x="1547" y="1132.6">Has Many</text>
<rect x="1533" y="1361" width="28" height="12"/><text x="1547" y="1369.6">Has One</text>
<rect x="1694.5" y="910" width="32" height="12"/><text x="1710.5" y="918.6">Has Many</text>
<rect x="1696" y="570.3" width="28" height="12"/><text x="1710" y="578.9">Has One</text>
<rect x="1734" y="590" width="42" height="12"/><text x="1755" y="598.6">May have one</text>
<rect x="1696" y="372.3" width="28" height="12"/><text x="1710" y="380.9">Has One</text>
<rect x="1911" y="438" width="32" height="12"/><text x="1927" y="446.6">Has Many</text>
<rect x="1911" y="570.3" width="32" height="12"/><text x="1927" y="578.9">Has Many</text>
<rect x="2111.6" y="483.7" width="32" height="12"/><text x="2127.6" y="492.3">Has Many</text>
<rect x="2148.9" y="485.3" width="32" height="12"/><text x="2164.9" y="493.9">Has Many</text>
<rect x="2189.7" y="481.3" width="28" height="12"/><text x="2203.7" y="489.9">Has One</text>
<rect x="1728.3" y="766" width="28" height="12"/><text x="1742.3" y="774.6">Has One</text>
<rect x="2107.3" y="760.7" width="28" height="12"/><text x="2121.3" y="769.3">Has One</text>
<rect x="2132.6" y="779" width="32" height="12"/><text x="2148.6" y="787.6">Has Many</text>
<rect x="2163.7" y="789.3" width="32" height="12"/><text x="2179.7" y="797.9">Has Many</text>
<rect x="1864.6" y="869" width="32" height="12"/><text x="1880.6" y="877.6">Has Many</text>
<rect x="1910.5" y="888.3" width="32" height="12"/><text x="1926.5" y="896.9">Has Many</text>
<rect x="2011.8" y="1094.7" width="32" height="12"/><text x="2027.8" y="1103.3">Has Many</text>
<rect x="1698" y="1190.7" width="28" height="12"/><text x="1712" y="1199.3">Has One</text>
<rect x="1357.9" y="1667.3" width="32" height="12"/><text x="1373.9" y="1675.9">Has Many</text>
<rect x="1397.9" y="1660.3" width="32" height="12"/><text x="1413.9" y="1668.9">Has Many</text>
<rect x="1426.4" y="1643.7" width="28" height="12"/><text x="1440.4" y="1652.3">Has One</text>
</g>
</g>

<g id="field-anchors">
<circle class="mk" cx="490.5" cy="202.4" r="2.2"/><circle class="mk" cx="490.5" cy="224.9" r="2.2"/><circle class="mk" cx="411" cy="271.5" r="2.2"/>
<circle class="mk" cx="231" cy="483.9" r="2.2"/><circle class="mk" cx="231" cy="503.3" r="2.2"/><circle class="mk" cx="231" cy="562.9" r="2.2"/><circle class="mk" cx="231" cy="581.3" r="2.2"/>
<circle class="mk" cx="594.5" cy="466.3" r="2.2"/><circle class="mk" cx="594.5" cy="488.7" r="2.2"/><circle class="mk" cx="594.5" cy="601.3" r="2.2"/><circle class="mk" cx="594.5" cy="623.7" r="2.2"/>
<circle class="mk" cx="292.8" cy="885.5" r="2.2"/><circle class="mk" cx="298" cy="907" r="2.2"/><circle class="mk" cx="289" cy="927.5" r="2.2"/>
<circle class="mk" cx="291" cy="1091.5" r="2.2"/><circle class="mk" cx="298" cy="1111" r="2.2"/><circle class="mk" cx="289" cy="1131.5" r="2.2"/>
<circle class="mk" cx="610.6" cy="1091.5" r="2.2"/><circle class="mk" cx="612.5" cy="1112" r="2.2"/><circle class="mk" cx="609.7" cy="1131.5" r="2.2"/>
<circle class="mk" cx="986.1" cy="136" r="2.2"/><circle class="mk" cx="1061.8" cy="129.5" r="2.2"/><circle class="mk" cx="1136.1" cy="129.5" r="2.2"/><circle class="mk" cx="947.4" cy="170.2" r="2.2"/><circle class="mk" cx="929.4" cy="204.5" r="2.2"/><circle class="mk" cx="914.2" cy="232.7" r="2.2"/><circle class="mk" cx="902.1" cy="256.7" r="2.2"/><circle class="mk" cx="909" cy="285.6" r="2.2"/><circle class="mk" cx="907.5" cy="317.5" r="2.2"/><circle class="mk" cx="919.5" cy="351.8" r="2.2"/><circle class="mk" cx="929.5" cy="396.2" r="2.2"/>
<circle class="mk" cx="1360" cy="182.2" r="2.2"/><circle class="mk" cx="1434.9" cy="182.2" r="2.2"/><circle class="mk" cx="1514.8" cy="191.2" r="2.2"/><circle class="mk" cx="1536.4" cy="221.8" r="2.2"/><circle class="mk" cx="1531.5" cy="251.4" r="2.2"/><circle class="mk" cx="1524.5" cy="276.5" r="2.2"/><circle class="mk" cx="1495.9" cy="299.3" r="2.2"/><circle class="mk" cx="1403" cy="342.8" r="2.2"/>
<circle class="mk" cx="1496.1" cy="443.5" r="2.2"/><circle class="mk" cx="1492.1" cy="467.1" r="2.2"/><circle class="mk" cx="1491.7" cy="492.5" r="2.2"/><circle class="mk" cx="1481" cy="522" r="2.2"/>
<circle class="mk" cx="1190.5" cy="676.4" r="2.2"/><circle class="mk" cx="1163.8" cy="701.3" r="2.2"/><circle class="mk" cx="1134.4" cy="727.9" r="2.2"/><circle class="mk" cx="1119.2" cy="755.9" r="2.2"/><circle class="mk" cx="1119.2" cy="784.6" r="2.2"/><circle class="mk" cx="1103.3" cy="816.5" r="2.2"/><circle class="mk" cx="1087.7" cy="848.9" r="2.2"/><circle class="mk" cx="1083.1" cy="881.8" r="2.2"/><circle class="mk" cx="1085" cy="915.4" r="2.2"/><circle class="mk" cx="1106" cy="948.2" r="2.2"/>
<circle class="mk" cx="1331.7" cy="916.5" r="2.2"/><circle class="mk" cx="1324.2" cy="943.4" r="2.2"/><circle class="mk" cx="1300.8" cy="964.2" r="2.2"/><circle class="mk" cx="1298.3" cy="985.5" r="2.2"/>
<circle class="mk" cx="1279.8" cy="1136.4" r="2.2"/><circle class="mk" cx="1252.3" cy="1162.1" r="2.2"/><circle class="mk" cx="1243.5" cy="1191.2" r="2.2"/><circle class="mk" cx="1243.6" cy="1223.5" r="2.2"/><circle class="mk" cx="1261.9" cy="1255.8" r="2.2"/><circle class="mk" cx="1291.2" cy="1288.2" r="2.2"/>
<circle class="mk" cx="1826.3" cy="1130" r="2.2"/><circle class="mk" cx="1813" cy="1153.4" r="2.2"/><circle class="mk" cx="1802.8" cy="1181.5" r="2.2"/><circle class="mk" cx="1782.7" cy="1213.8" r="2.2"/>
<circle class="mk" cx="1784.3" cy="338.2" r="2.2"/><circle class="mk" cx="1819.6" cy="370.2" r="2.2"/><circle class="mk" cx="1857.4" cy="391.7" r="2.2"/>
<circle class="mk" cx="2139" cy="346.2" r="2.2"/><circle class="mk" cx="2217.9" cy="346.2" r="2.2"/><circle class="mk" cx="2261.5" cy="376.8" r="2.2"/><circle class="mk" cx="2265.2" cy="407.5" r="2.2"/><circle class="mk" cx="2270.5" cy="432.5" r="2.2"/><circle class="mk" cx="2259.5" cy="456.1" r="2.2"/>
<circle class="mk" cx="1817.4" cy="621.8" r="2.2"/><circle class="mk" cx="1833.1" cy="653.5" r="2.2"/><circle class="mk" cx="1831.2" cy="680.2" r="2.2"/><circle class="mk" cx="1838.8" cy="705.8" r="2.2"/><circle class="mk" cx="1838.8" cy="729.5" r="2.2"/><circle class="mk" cx="1836.8" cy="755.8" r="2.2"/><circle class="mk" cx="1831.2" cy="786.5" r="2.2"/>
<circle class="mk" cx="2156.1" cy="630.2" r="2.2"/><circle class="mk" cx="2226" cy="633.2" r="2.2"/><circle class="mk" cx="2246.5" cy="666.2" r="2.2"/><circle class="mk" cx="2267.5" cy="690.3" r="2.2"/><circle class="mk" cx="2286.2" cy="716.5" r="2.2"/><circle class="mk" cx="2297.2" cy="743.2" r="2.2"/><circle class="mk" cx="2298.2" cy="773.2" r="2.2"/><circle class="mk" cx="2293.8" cy="806.2" r="2.2"/><circle class="mk" cx="2279" cy="838.8" r="2.2"/>
<circle class="mk" cx="1193.8" cy="1580.9" r="2.2"/><circle class="mk" cx="1166.1" cy="1607.9" r="2.2"/><circle class="mk" cx="1146.5" cy="1635.7" r="2.2"/><circle class="mk" cx="1134.2" cy="1663.8" r="2.2"/><circle class="mk" cx="1123.3" cy="1693.5" r="2.2"/><circle class="mk" cx="1108.3" cy="1722.5" r="2.2"/><circle class="mk" cx="1117.9" cy="1755.8" r="2.2"/><circle class="mk" cx="1139.4" cy="1789.8" r="2.2"/><circle class="mk" cx="1168.5" cy="1821.8" r="2.2"/><circle class="mk" cx="1203.6" cy="1855.8" r="2.2"/>
</g>
</svg>
